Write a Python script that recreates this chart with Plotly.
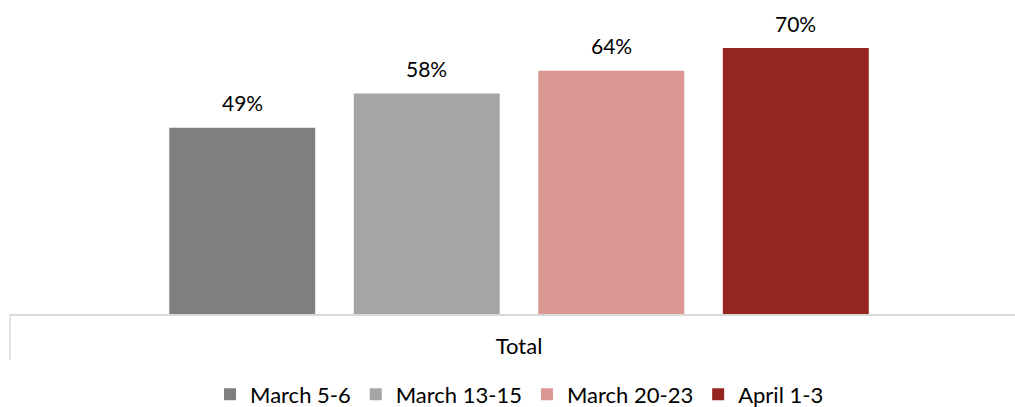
import plotly.graph_objects as go

categories = ["Total"]
series_names = ["March 5-6", "March 13-15", "March 20-23", "April 1-3"]
series_values = [[49], [58], [64], [70]]
colors = ["#7f7f7f", "#a5a5a5", "#db9694", "#94261f"]

BARGAP = 0.275
BARGROUPGAP = 0.209
FONT = "Lato"

fig = go.Figure()
for name, vals, col in zip(series_names, series_values, colors):
    fig.add_trace(go.Bar(
        x=categories, y=vals, name=name, marker=dict(color=col, line=dict(width=0)),
    ))

# value labels placed above each bar of the group
n = len(series_names)
slot = (1 - BARGAP) / n
for i, vals in enumerate(series_values):
    for ci, v in enumerate(vals):
        fig.add_annotation(
            x=ci + (i - (n - 1) / 2) * slot, y=v, xref="x", yref="y",
            text=f"{v}%", showarrow=False, yshift=25, yanchor="middle",
            font=dict(family=FONT, size=21, color="#000000"),
        )

fig.update_layout(
    width=1015, height=407,
    margin=dict(l=10, r=0, t=10, b=93, autoexpand=False),
    paper_bgcolor="white", plot_bgcolor="white",
    barmode="group", bargap=BARGAP, bargroupgap=BARGROUPGAP,
    font=dict(family=FONT, size=22, color="#000000"),
    showlegend=True,
    legend=dict(orientation="h", x=0.507, xanchor="center", xref="paper",
                y=0.031, yanchor="middle", yref="container",
                font=dict(family=FONT, size=22, color="#000000"), traceorder="normal"),
)
fig.update_xaxes(range=[-0.5, 0.4872], showline=True, linecolor="#d9d9d9", linewidth=1.5,
                 showgrid=False, ticks="", ticklabelstandoff=12,
                 tickfont=dict(family=FONT, size=22, color="#000000"))
fig.update_yaxes(range=[0, 80], visible=False, showgrid=False)
fig.add_shape(type="line", xref="paper", yref="paper", x0=0, x1=0, y0=0, y1=-46/304,
              line=dict(color="#d9d9d9", width=1.5))

fig.write_html("out.html", config={"displayModeBar": False},
               post_script="document.body.style.margin='0';")
